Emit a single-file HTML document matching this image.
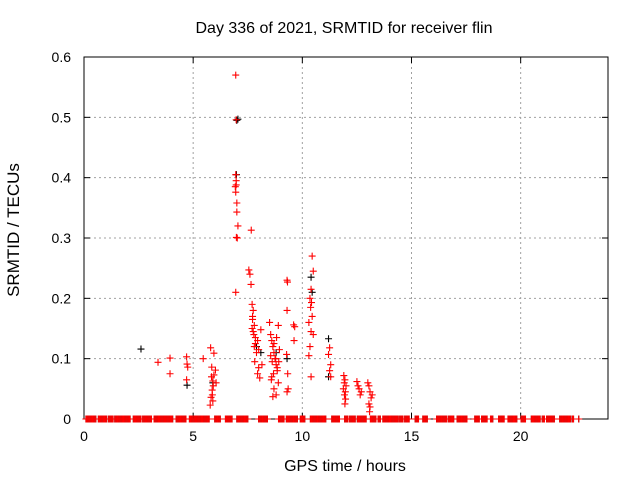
<!DOCTYPE html>
<html><head><meta charset="utf-8">
<style>
body{margin:0;background:#fff;}
svg{display:block;font-family:"Liberation Sans",sans-serif;}
</style></head>
<body>
<svg id="chart" width="640" height="480" viewBox="0 0 640 480">
<rect width="640" height="480" fill="#fff"/>
<g id="grid"></g>
<g id="axes"></g>
<g id="black"></g>
<g id="red"></g>
<text x="344" y="33" font-size="16" text-anchor="middle">Day 336 of 2021, SRMTID for receiver flin</text>
<text x="345" y="471" font-size="16" text-anchor="middle">GPS time / hours</text>
<text transform="translate(19,230) rotate(-90)" font-size="17" text-anchor="middle">SRMTID / TECUs</text>
</svg>
<script>
const xTicks=[0,5,10,15,20];
const yTicks=[0,0.1,0.2,0.3,0.4,0.5,0.6];
const yTickLabels=["0","0.1","0.2","0.3","0.4","0.5","0.6"];
const zeroRuns=[[0.09,0.58],[0.66,0.86],[0.89,1.07],[1.13,1.35],[1.41,2.11],[2.26,2.65],[2.69,3.10],[3.21,4.10],[4.22,4.71],[4.83,5.75],[5.99,6.27],[6.48,6.82],[7.00,7.54],[8.00,8.41],[8.91,9.17],[9.27,9.80],[9.91,10.15],[10.37,11.09],[11.35,11.74],[11.94,12.13],[12.17,12.43],[12.52,12.92],[13.12,13.39],[13.47,13.58],[13.69,14.42],[14.46,14.62],[14.69,14.92],[15.17,15.34],[15.52,15.72],[16.15,16.64],[16.68,16.94],[17.09,17.55],[17.90,18.13],[18.21,18.50],[18.62,18.75],[18.99,19.27],[19.42,19.85],[20.02,20.24],[20.49,20.92],[20.99,21.12],[21.19,21.56],[21.79,22.29],[22.37,22.45],[22.66,22.66]];
const redT=[3.39,3.94,3.94,4.7,4.72,4.75,4.7,5.46,5.8,5.95,5.85,5.95,5.9,5.87,5.82,5.9,5.78,6.02,6.05,6.95,6.97,6.95,6.97,6.93,6.97,6.95,7.0,7.0,7.05,7.02,6.98,6.95,7.66,7.55,7.6,7.65,7.7,7.75,7.72,7.8,7.75,7.85,7.8,7.9,7.82,8.0,7.95,8.05,8.1,8.15,8.5,8.55,8.6,8.65,8.7,8.75,8.8,8.85,8.6,8.9,8.7,8.8,8.65,8.9,9.3,9.32,9.3,9.28,9.33,9.35,9.3,9.6,9.65,9.62,10.45,10.5,10.4,10.35,10.42,10.38,10.45,10.3,10.4,10.35,10.3,10.4,10.5,11.25,11.2,11.3,11.25,11.3,11.9,11.95,11.92,12.0,11.88,11.97,11.93,11.98,11.95,12.5,12.55,12.6,12.7,12.65,13.0,13.05,13.1,13.2,13.15,13.05,13.1,13.08,7.7,7.78,7.85,7.95,8.0,7.72,8.55,8.62,8.7,8.78,8.85,8.95,8.58,8.68,8.82,8.92,5.88,5.92,5.84];
const redV=[0.094,0.101,0.075,0.103,0.091,0.086,0.065,0.1,0.118,0.109,0.086,0.073,0.063,0.048,0.036,0.03,0.023,0.081,0.06,0.570,0.496,0.405,0.395,0.385,0.388,0.376,0.358,0.343,0.32,0.30,0.301,0.21,0.313,0.247,0.24,0.223,0.19,0.18,0.17,0.155,0.145,0.135,0.12,0.11,0.095,0.085,0.075,0.068,0.148,0.09,0.16,0.14,0.13,0.12,0.11,0.1,0.09,0.08,0.07,0.06,0.05,0.04,0.037,0.155,0.23,0.227,0.18,0.107,0.075,0.05,0.045,0.156,0.153,0.13,0.27,0.245,0.215,0.2,0.193,0.185,0.17,0.16,0.145,0.12,0.105,0.07,0.14,0.118,0.107,0.09,0.08,0.07,0.072,0.065,0.06,0.055,0.05,0.045,0.04,0.033,0.025,0.062,0.055,0.05,0.045,0.04,0.06,0.055,0.045,0.04,0.035,0.025,0.02,0.012,0.15,0.14,0.125,0.13,0.115,0.165,0.105,0.095,0.125,0.1,0.085,0.115,0.065,0.075,0.135,0.095,0.04,0.055,0.07];
const blackT=[2.61,4.72,5.9,7.0,7.05,6.98,7.9,8.1,8.8,9.3,10.4,10.45,11.2,11.2];
const blackV=[0.116,0.056,0.06,0.495,0.497,0.405,0.12,0.11,0.11,0.1,0.235,0.21,0.133,0.07];

const L=84,R=608,T=57,B=419,XMAX=24,YMAX=0.6;
const xs=v=>L+v/XMAX*(R-L);
const ys=v=>B-v/YMAX*(B-T);
const NS="http://www.w3.org/2000/svg";
function mk(tag,attrs,parent){const e=document.createElementNS(NS,tag);for(const k in attrs)e.setAttribute(k,attrs[k]);parent.appendChild(e);return e;}
const grid=document.getElementById('grid'),axes=document.getElementById('axes');
xTicks.forEach((t,i)=>{
  if(t>0){const g=mk('line',{x1:xs(t),x2:xs(t),y1:T,y2:B,stroke:'#a0a0a0','stroke-dasharray':'2,3'},grid);
  
  }
  mk('line',{x1:xs(t),x2:xs(t),y1:B,y2:B-6,stroke:'#000'},axes);
  mk('line',{x1:xs(t),x2:xs(t),y1:T,y2:T+6,stroke:'#000'},axes);
  const tx=mk('text',{x:xs(t),y:B+22,'font-size':14,'text-anchor':'middle'},axes);
  tx.textContent=String(t);
  
  
});
yTicks.forEach((t,i)=>{
  if(t>0&&t<YMAX){const g=mk('line',{x1:L,x2:R,y1:ys(t),y2:ys(t),stroke:'#a0a0a0','stroke-dasharray':'2,3'},grid);
  
  }
  mk('line',{x1:L,x2:L+6,y1:ys(t),y2:ys(t),stroke:'#000'},axes);
  mk('line',{x1:R,x2:R-6,y1:ys(t),y2:ys(t),stroke:'#000'},axes);
  const tx=mk('text',{x:L-13,y:ys(t)+5,'font-size':14,'text-anchor':'end'},axes);
  tx.textContent=yTickLabels[i];
  
  
});
const fr=mk('rect',{x:L,y:T,width:R-L,height:B-T,fill:'none',stroke:'#000'},axes);


function cross(g,t,v,col){
  const x=xs(t),y=ys(v);
  const p=mk('path',{d:`M${x-3.5},${y}H${x+3.5}M${x},${y-3.5}V${y+3.5}`,stroke:col,'stroke-width':1.1,fill:'none'},g);
  
  
}
const bg=document.getElementById('black'),rg=document.getElementById('red');
zeroRuns.forEach(r=>{for(let t=r[0];t<=r[1]+1e-9;t+=0.05)cross(bg,t,0,'#000');});
blackT.forEach((t,i)=>cross(bg,t,blackV[i],'#000'));
zeroRuns.forEach(r=>{for(let t=r[0];t<=r[1]+1e-9;t+=0.05)cross(rg,t,0,'#f00');});
redT.forEach((t,i)=>cross(rg,t,redV[i],'#f00'));
</script>
</body></html>
